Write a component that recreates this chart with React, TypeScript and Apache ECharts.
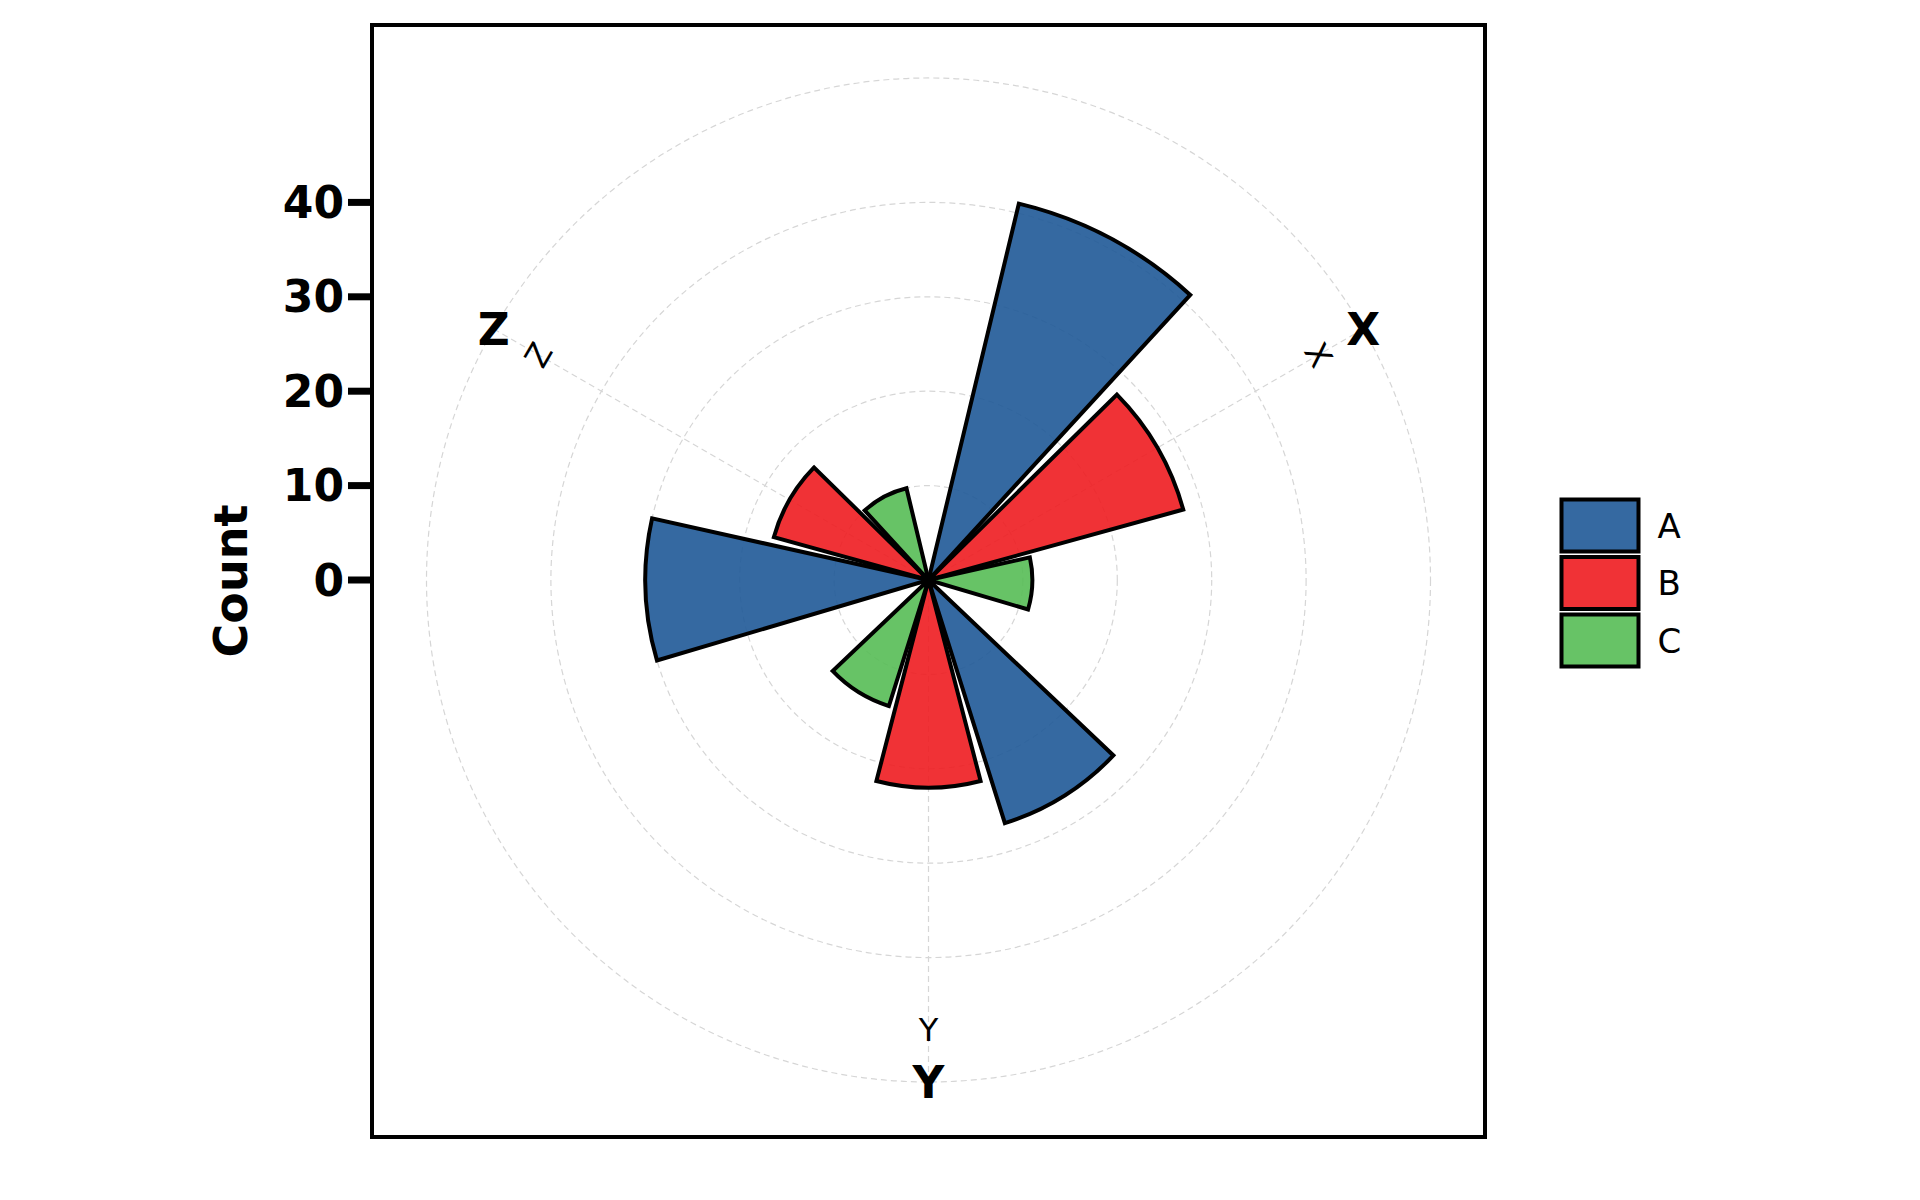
import React, { useEffect, useRef } from "react";
import * as echarts from "echarts";

// ---- data ----
const categories = ["X", "Y", "Z"];
const seriesNames = ["A", "B", "C"];
const valuesA = [41, 27, 30];
const valuesB = [28, 22, 17];
const valuesC = [11, 14, 10];
const seriesValues = [valuesA, valuesB, valuesC];
const tickValues = [0, 10, 20, 30, 40];
const gridRings = 40; // rings drawn at 10..40

// ---- layout / style ----
const CX = 928.5;
const CY = 580;
const UNIT = 9.44; // px per count
const R_OUT = 502;
const GRID_LEFT = 372;
const TICK_LEN = 24;
const TICK_W = 7;
const FONT = "DejaVu Sans";
const colors = ["rgba(31,89,151,0.9)", "rgba(238,28,32,0.9)", "rgba(87,189,85,0.9)"];
const GRID_COLOR = "#d6d6d6";
const DASH = [6, 4];

export default function App() {
  const ref = useRef<HTMLDivElement>(null);
  useEffect(() => {
    const chart = echarts.init(ref.current!, null, { renderer: "svg" });
    const rMax = R_OUT / UNIT;
    const yMin = -(1137 - CY) / UNIT;
    const yMax = (CY - 25) / UNIT;
    const pt = (bearing: number, r: number) => {
      const b = (bearing * Math.PI) / 180;
      return [CX + r * Math.sin(b), CY - r * Math.cos(b)];
    };
    const graphics: any[] = [];
    categories.forEach((c, i) => {
      const bearing = ((i + 0.5) * 360) / categories.length;
      let rot = -bearing;
      while (rot <= -90) rot += 180;
      while (rot > 90) rot -= 180;
      const [sx, sy] = pt(bearing, 450);
      graphics.push({
        type: "text",
        x: sx,
        y: sy,
        rotation: (rot * Math.PI) / 180,
        z: 10,
        style: {
          text: c,
          fontFamily: FONT,
          fontSize: 32,
          fill: "#000",
          align: "center",
          verticalAlign: "middle",
        },
      });
      const [bx, by] = pt(bearing, R_OUT);
      graphics.push({
        type: "text",
        x: bx,
        y: by,
        z: 10,
        style: {
          text: c,
          fontFamily: FONT,
          fontSize: 44,
          fontWeight: "bold",
          fill: "#000",
          align: "center",
          verticalAlign: "middle",
        },
      });
    });

    const hidden = {
      axisLine: { show: false },
      axisTick: { show: false },
      axisLabel: { show: false },
      splitLine: { show: false },
    };
    const gridLine = { color: GRID_COLOR, type: DASH, width: 1.2 };

    chart.setOption({
      animation: false,
      grid: {
        left: GRID_LEFT,
        top: 25,
        width: 1113,
        height: 1112,
        show: true,
        borderColor: "#000",
        borderWidth: 4,
        backgroundColor: "transparent",
      },
      xAxis: { type: "value", min: 0, max: 1, show: false },
      yAxis: {
        type: "value",
        min: yMin,
        max: yMax,
        axisLine: { show: false },
        splitLine: { show: false },
        axisTick: { show: false },
        axisLabel: {
          customValues: tickValues,
          fontFamily: FONT,
          fontWeight: "bold",
          fontSize: 44,
          color: "#000",
          margin: 28,
        },
        name: "Count",
        nameLocation: "middle",
        nameGap: 118,
        nameTextStyle: { fontFamily: FONT, fontWeight: "bold", fontSize: 46, color: "#000" },
      },
      polar: [
        { center: [CX, CY], radius: R_OUT },
        { center: [CX, CY], radius: gridRings * UNIT },
        { center: [CX, CY], radius: R_OUT },
      ],
      angleAxis: [
        {
          polarIndex: 0,
          type: "category",
          data: categories,
          startAngle: 90,
          clockwise: true,
          boundaryGap: true,
          ...hidden,
          axisLine: { show: true, lineStyle: gridLine },
        },
        { polarIndex: 1, type: "value", min: 0, max: 360, ...hidden },
        {
          polarIndex: 2,
          type: "value",
          min: 0,
          max: 360,
          interval: 120,
          startAngle: 30,
          clockwise: true,
          ...hidden,
          splitLine: { show: true, lineStyle: gridLine },
        },
      ],
      radiusAxis: [
        { polarIndex: 0, type: "value", min: 0, max: rMax, ...hidden },
        {
          polarIndex: 1,
          type: "value",
          min: 0,
          max: gridRings,
          interval: 10,
          ...hidden,
          splitLine: { show: true, lineStyle: gridLine },
        },
        { polarIndex: 2, type: "value", min: 0, max: 1, ...hidden },
      ],
      legend: {
        orient: "vertical",
        left: 1559.5,
        top: 497.5,
        padding: 0,
        itemWidth: 77,
        itemHeight: 52,
        itemGap: 1.5,
        icon: "rect",
        data: seriesNames,
        itemStyle: { borderColor: "#000", borderWidth: 4 },
        textStyle: { fontFamily: FONT, fontSize: 34, color: "#000", padding: [0, 0, 0, 14], lineHeight: 40 },
      },
      series: seriesNames.map((n, i) => ({
        name: n,
        type: "bar",
        coordinateSystem: "polar",
        polarIndex: 0,
        data: seriesValues[i],
        barGap: "10%",
        barCategoryGap: "22.5%",
        z: 5,
        itemStyle: { color: colors[i], borderColor: "#000", borderWidth: 4 },
      })),
      graphic: graphics,
    });

    // y-axis ticks placed through the axis scale (filled rects)
    const ticks = tickValues.map((v) => {
      let y = chart.convertToPixel({ yAxisIndex: 0 }, v) as number;
      if (!Number.isFinite(y)) y = CY - v * UNIT;
      return {
        type: "rect",
        z: 10,
        shape: { x: GRID_LEFT - TICK_LEN, y: y - TICK_W / 2, width: TICK_LEN, height: TICK_W },
        style: { fill: "#000" },
      };
    });
    chart.setOption({ graphic: [...graphics, ...ticks] });
    return () => chart.dispose();
  }, []);
  return (
    <div
      ref={ref}
      style={{ position: "absolute", left: 0, top: 0, width: 1920, height: 1200, background: "#fff" }}
    />
  );
}
